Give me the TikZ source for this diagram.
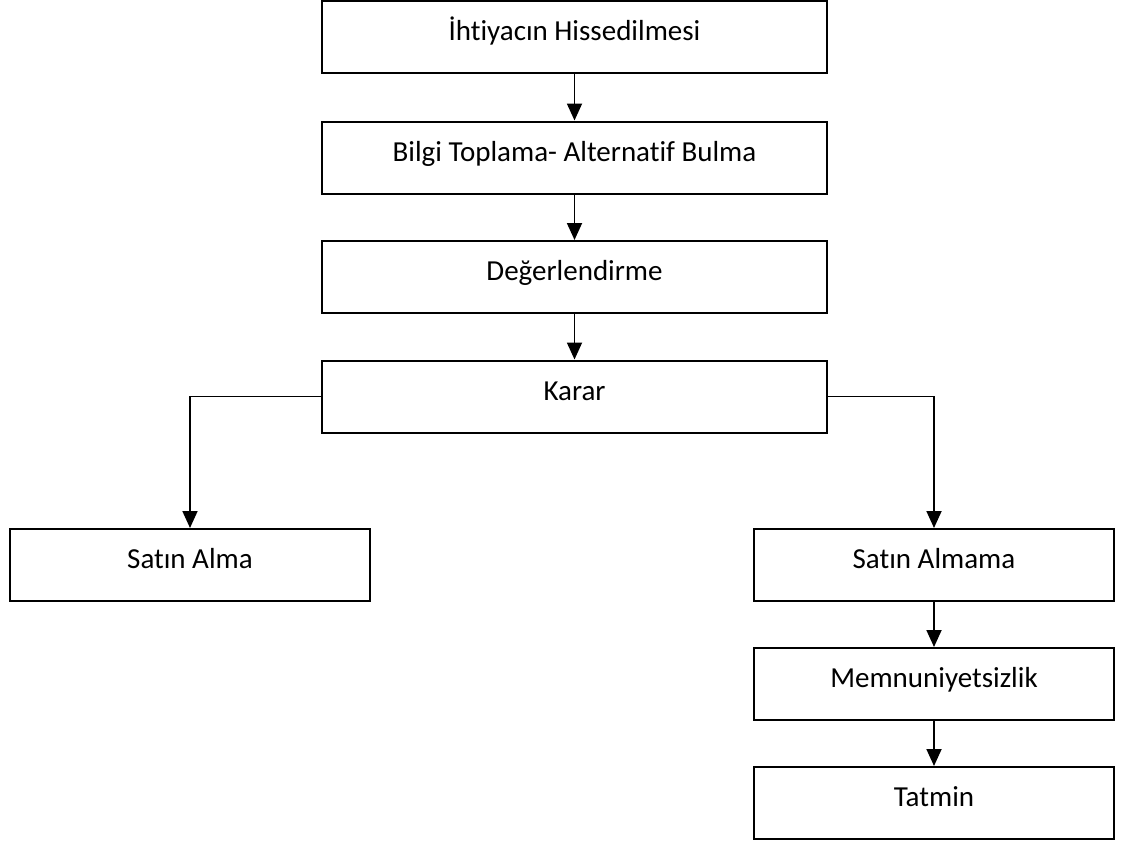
\documentclass[tikz,border=0pt]{standalone}
\usepackage{fontspec}
\setmainfont{Carlito}[Ligatures=NoCommon]
\usetikzlibrary{arrows.meta}
\begin{document}
\begin{tikzpicture}[x=1pt,y=-1pt,
  box/.style={draw, line width=2pt, minimum width=505pt, minimum height=72pt,
    inner sep=0pt, font=\fontsize{29}{33}\selectfont, text height=18.5pt, text depth=11.5pt},
  sidebox/.style={box, minimum width=360pt},
  arr/.style={line width=1.8pt, -{Triangle[width=15pt,length=17pt]}}]
\useasboundingbox (0,0) rectangle (1124,843);
\fill[white] (0,0) rectangle (1124,843);
% main decision chain
\node[box] (need)   at (574.5,37)    {İhtiyacın Hissedilmesi};
\node[box] (info)   at (574.5,157.5) {Bilgi Toplama- Alternatif Bulma};
\node[box] (eval)   at (574.5,277)   {Değerlendirme};
\node[box] (karar)  at (574.5,396.5) {Karar};
% outcomes
\node[sidebox] (buy)    at (190,565) {Satın Alma};
\node[sidebox] (nobuy)  at (934,565) {Satın Almama};
\node[sidebox] (unsat)  at (934,684) {Memnuniyetsizlik};
\node[sidebox] (tatmin) at (934,803) {Tatmin};
% connectors
\draw[arr] (need) -- (info);
\draw[arr] (info) -- (eval);
\draw[arr] (eval) -- (karar);
\draw[arr] (karar.west) -| (buy.north);
\draw[arr] (karar.east) -| (nobuy.north);
\draw[arr] (nobuy) -- (unsat);
\draw[arr] (unsat) -- (tatmin);
\end{tikzpicture}
\end{document}
